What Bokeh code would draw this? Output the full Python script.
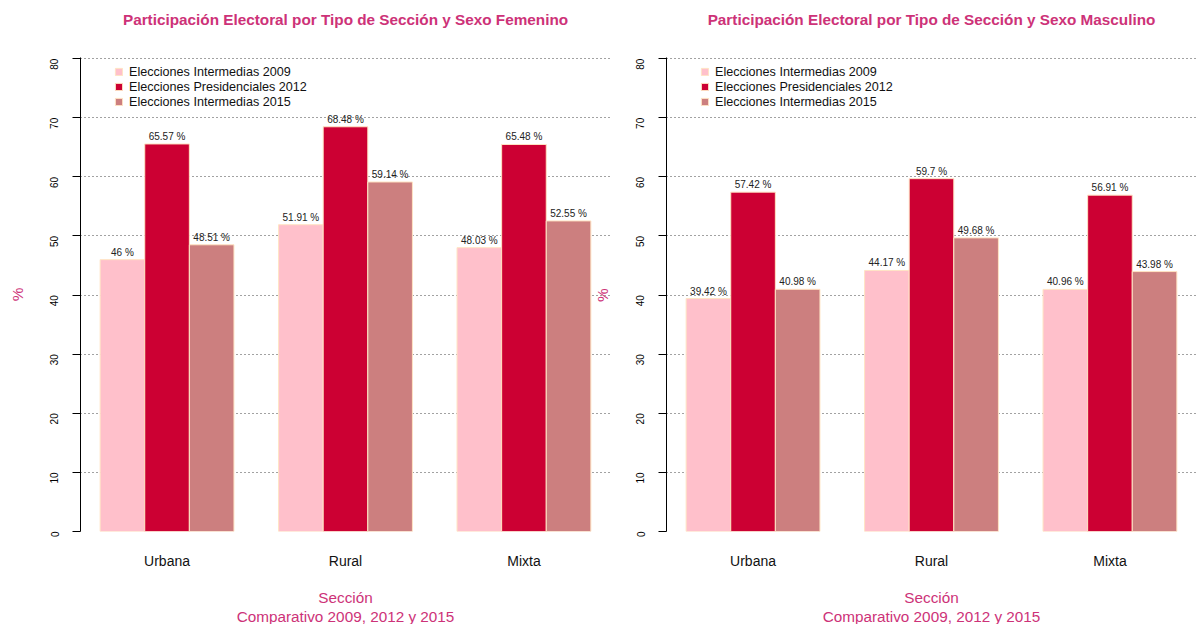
from math import pi
from bokeh.plotting import figure
from bokeh.models import FixedTicker, Label, Legend, LegendItem, ColumnDataSource, Title
from bokeh.layouts import row
from bokeh.embed import file_html
from bokeh.resources import INLINE

# ---------------- data ----------------
secciones = ["Urbana", "Rural", "Mixta"]
series = ["Elecciones Intermedias 2009",
          "Elecciones Presidenciales 2012",
          "Elecciones Intermedias 2015"]
colores = ["#FFC0CB", "#CC0033", "#CC7F7F"]

fem_2009 = [46.00, 51.91, 48.03]
fem_2012 = [65.57, 68.48, 65.48]
fem_2015 = [48.51, 59.14, 52.55]

mas_2009 = [39.42, 44.17, 40.96]
mas_2012 = [57.42, 59.70, 56.91]
mas_2015 = [40.98, 49.68, 43.98]

y_ticks = [0, 10, 20, 30, 40, 50, 60, 70, 80]
titulo_fem = "Participación Electoral por Tipo de Sección y Sexo Femenino"
titulo_mas = "Participación Electoral por Tipo de Sección y Sexo Masculino"
x_titulo_1 = "Sección"
x_titulo_2 = "Comparativo 2009, 2012 y 2015"
y_titulo = "%"

FONT = "Liberation Sans"
MAGENTA = "#CD3278"
FRAME_W = 530
PX_PER_UNIT = FRAME_W / 11.88
X0, X1 = 0.56, 12.44
Y1 = 80.2


def fmt(v):
    return f"{v:g} %"


def spacer(h):
    return Title(text=" ", text_font_size="1px", standoff=h)


def make_panel(title, vals_by_series, width, left, right, ylabel):
    p = figure(width=width, height=624, x_range=(X0, X1), y_range=(0, Y1),
               output_backend="svg", toolbar_location=None, title=None,
               min_border_left=left, min_border_right=right,
               min_border_top=57, min_border_bottom=92)
    p.outline_line_color = None
    p.background_fill_color = "white"
    p.border_fill_color = "white"

    # title (a spacer keeps it away from the frame)
    p.add_layout(spacer(27), "above")
    p.add_layout(Title(text=title, align="center", text_font=FONT,
                       text_font_size="15.3px", text_font_style="bold",
                       text_color=MAGENTA, standoff=0), "above")

    # grid
    p.xgrid.visible = False
    p.ygrid.ticker = FixedTicker(ticks=y_ticks)
    p.ygrid.grid_line_color = "#444444"
    p.ygrid.grid_line_dash = "1 3"
    p.ygrid.grid_line_width = 1

    # y axis
    ya = p.yaxis[0]
    ya.ticker = FixedTicker(ticks=y_ticks)
    ya.axis_line_color = "black"
    ya.major_tick_line_color = "black"
    ya.major_tick_out = 8
    ya.major_tick_in = 0
    ya.minor_tick_line_color = None
    ya.major_label_orientation = pi / 2
    ya.major_label_text_font = FONT
    ya.major_label_text_font_size = "10px"
    ya.major_label_text_color = "black"
    ya.major_label_standoff = 18
    if ylabel:
        ya.axis_label = y_titulo
        ya.axis_label_text_font = FONT
        ya.axis_label_text_font_size = "15.3px"
        ya.axis_label_text_font_style = "normal"
        ya.axis_label_text_color = MAGENTA
        ya.axis_label_standoff = 18

    # x axis (category names only)
    xa = p.xaxis[0]
    centers = [2.5 + 4 * g for g in range(len(secciones))]
    xa.ticker = FixedTicker(ticks=centers)
    xa.major_label_overrides = {c: s for c, s in zip(centers, secciones)}
    xa.axis_line_color = None
    xa.major_tick_line_color = None
    xa.minor_tick_line_color = None
    xa.major_tick_out = 0
    xa.major_tick_in = 0
    xa.major_label_standoff = 21
    xa.major_label_text_font = FONT
    xa.major_label_text_font_size = "14px"
    xa.major_label_text_color = "#111111"

    # x titles (two lines, stacked below the axis)
    p.add_layout(spacer(12), "below")
    for txt in (x_titulo_1, x_titulo_2):
        p.add_layout(Title(text=txt, align="center", text_font=FONT,
                           text_font_size="15.3px", text_font_style="normal",
                           text_color=MAGENTA, standoff=0), "below")

    items = []
    for s, (name, vals) in enumerate(zip(series, vals_by_series)):
        xs = [1.5 + 4 * g + s for g in range(len(vals))]
        src = ColumnDataSource(dict(x=xs, top=vals, lab=[fmt(v) for v in vals]))
        r = p.vbar(x="x", top="top", width=1.0, bottom=0, source=src,
                   fill_color=colores[s], line_color="#FFE4C4", line_width=1)
        p.text(x="x", y="top", text="lab", source=src,
               text_align="center", text_baseline="bottom", y_offset=-2,
               text_font_size="10px", text_color="#222222",
               text_font={"value": FONT})
        items.append(LegendItem(label=name, renderers=[r]))

    leg = Legend(items=items, location=(34, 422), border_line_color=None,
                 background_fill_alpha=0, glyph_width=9, glyph_height=9,
                 label_height=15, spacing=0, padding=0, margin=0,
                 label_standoff=6, label_text_font=FONT,
                 label_text_font_size="12.6px", label_text_color="#111111")
    p.add_layout(leg)
    return p


p1 = make_panel(titulo_fem, [fem_2009, fem_2012, fem_2015], 610, 80, 0, True)
p2 = make_panel(titulo_mas, [mas_2009, mas_2012, mas_2015], 589, 56, 3, False)

# "%" label of the right panel sits in the gap between the panels
p1.add_layout(Label(x=X0 + (602 - 80) / PX_PER_UNIT, y=40, text=y_titulo,
                    angle=pi / 2, text_align="center", text_baseline="middle",
                    text_font=FONT, text_font_size="15.3px", text_color=MAGENTA))

layout = row(p1, p2)
open("out.html", "w").write(file_html(layout, INLINE))
